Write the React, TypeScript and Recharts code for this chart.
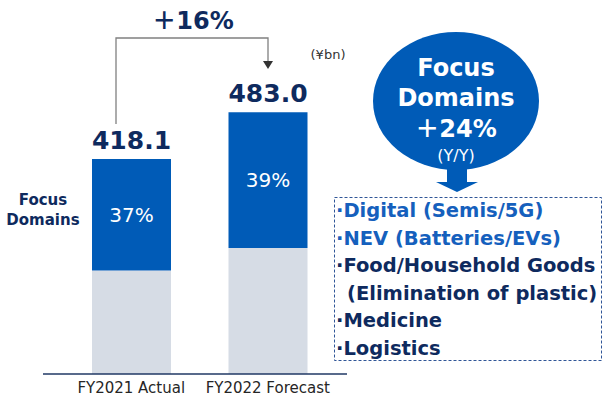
import { BarChart, Bar, XAxis, YAxis, LabelList } from "recharts";

const categories = ["FY2021 Actual", "FY2022 Forecast"];
const totals = [418.1, 483.0];
const focusShare = [37, 39];
const focusItems = [
  { text: "Digital (Semis/5G)", highlight: true },
  { text: "NEV (Batteries/EVs)", highlight: true },
  { text: "Food/Household Goods", highlight: false },
  { text: "(Elimination of plastic)", highlight: false, noBullet: true },
  { text: "Medicine", highlight: false },
  { text: "Logistics", highlight: false },
];

const FONT = '"DejaVu Sans", "Noto Sans CJK JP", sans-serif';
const CJK = '"Noto Sans CJK JP", sans-serif';
const NAVY = "#0e2a5e";
const BLUE = "#005bb7";
const GREY = "#d6dce5";

const rows = categories.map((name, i) => ({
  name,
  other: +(totals[i] * (1 - focusShare[i] / 100)).toFixed(1),
  focus: +(totals[i] * (focusShare[i] / 100)).toFixed(1),
  totalLabel: totals[i].toFixed(1),
  pctLabel: `${focusShare[i]}%`,
}));

export default function App() {
  return (
    <div
      style={{
        position: "absolute",
        left: 0,
        top: 0,
        width: 603,
        height: 400,
        background: "#fff",
        fontFamily: FONT,
      }}
    >
      <BarChart
        width={603}
        height={400}
        data={rows}
        margin={{ top: 100, right: 256, left: 43, bottom: 0 }}
      >
        <XAxis
          dataKey="name"
          height={26}
          padding={{ left: 20, right: 11 }}
          tickLine={false}
          axisLine={{ stroke: "#203864", strokeWidth: 1.5 }}
          tick={{ fontSize: 15, fill: "#262626", fontFamily: FONT }}
        />
        <YAxis hide domain={[120, 500]} allowDataOverflow />
        <Bar dataKey="other" stackId="a" fill={GREY} barSize={79} isAnimationActive={false} />
        <Bar dataKey="focus" stackId="a" fill={BLUE} barSize={79} isAnimationActive={false}>
          <LabelList
            dataKey="pctLabel"
            position="center"
            fill="#fff"
            style={{ fontSize: 20, fontFamily: FONT }}
          />
          <LabelList
            dataKey="totalLabel"
            position="top"
            offset={10}
            fill={NAVY}
            style={{ fontSize: 25, fontWeight: 700, fontFamily: FONT }}
          />
        </Bar>
      </BarChart>

      {/* annotations */}
      <svg
        width={603}
        height={400}
        style={{ position: "absolute", left: 0, top: 0, pointerEvents: "none" }}
      >
        <path d="M116 124 V38 H268 V62" fill="none" stroke="#808080" strokeWidth={1.3} />
        <polygon points="263,61 273,61 268,69" fill="#333" />
        <text
          x={193}
          y={29}
          textAnchor="middle"
          fill={NAVY}
          style={{ fontSize: 24, fontWeight: 700, fontFamily: FONT }}
        >
          <tspan style={{ fontFamily: CJK }}>＋</tspan>16%
        </text>
        <text x={328} y={59} textAnchor="middle" fill="#333" style={{ fontSize: 13, fontFamily: FONT }}>
          (¥bn)
        </text>
        <text x={43} y={205} textAnchor="middle" fill={NAVY} style={{ fontSize: 15, fontWeight: 700, fontFamily: FONT }}>
          Focus
        </text>
        <text x={43} y={225} textAnchor="middle" fill={NAVY} style={{ fontSize: 15, fontWeight: 700, fontFamily: FONT }}>
          Domains
        </text>

        {/* callout */}
        <ellipse cx={456} cy={101} rx={83} ry={69} fill={BLUE} />
        <rect x={447} y={160} width={20} height={24} fill={BLUE} />
        <polygon points="436,182 478,182 457,192" fill={BLUE} />
        <g fill="#fff" textAnchor="middle" style={{ fontFamily: FONT }}>
          <text x={456} y={76} style={{ fontSize: 24, fontWeight: 700 }}>Focus</text>
          <text x={456} y={106} style={{ fontSize: 24, fontWeight: 700 }}>Domains</text>
          <text x={456} y={137} style={{ fontSize: 24, fontWeight: 700 }}>
            <tspan style={{ fontFamily: CJK }}>＋</tspan>24%
          </text>
          <text x={456} y={161} style={{ fontSize: 16 }}>(Y/Y)</text>
        </g>

        <rect
          x={334.5}
          y={197.5}
          width={267}
          height={163}
          fill="none"
          stroke="#2f5597"
          strokeWidth={1}
          strokeDasharray="3 2"
        />
        {focusItems.map((it, i) => (
          <text
            key={it.text}
            x={it.noBullet ? 347 : 336}
            y={217 + i * 27.6}
            fill={it.highlight ? "#1560bd" : NAVY}
            style={{ fontSize: 19.5, fontWeight: 700, fontFamily: FONT }}
          >
            {it.noBullet ? "" : "·"}
            {it.text}
          </text>
        ))}
      </svg>
    </div>
  );
}
